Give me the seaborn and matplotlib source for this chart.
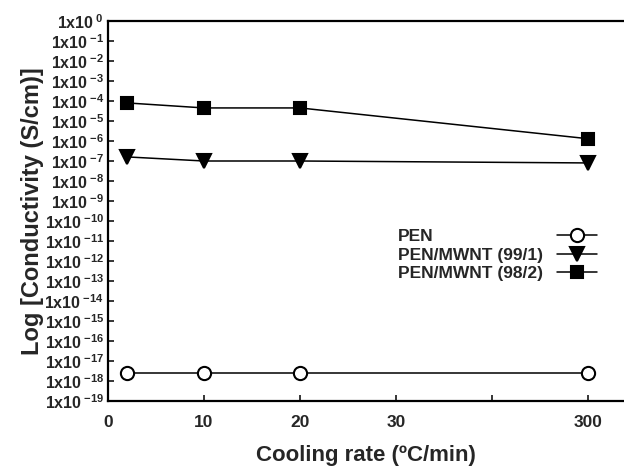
import numpy as np
import pandas as pd
import matplotlib
matplotlib.use("Agg")
import matplotlib.pyplot as plt
import seaborn as sns

sns.set_style("ticks")
plt.rcParams['font.family'] = ['Liberation Sans', 'DejaVu Sans']
plt.rcParams['font.weight'] = 'bold'
plt.rcParams['mathtext.fontset'] = 'custom'
plt.rcParams['mathtext.rm'] = 'Liberation Sans:bold'
plt.rcParams['mathtext.bf'] = 'Liberation Sans:bold'
plt.rcParams['mathtext.it'] = 'Liberation Sans:bold'

# data
cooling_rate = [2, 10, 20, 300]
pen = [2.5e-18, 2.5e-18, 2.5e-18, 2.5e-18]
pen_mwnt_991 = [1.6e-7, 1.0e-7, 1.0e-7, 8.0e-8]
pen_mwnt_982 = [8.0e-5, 4.5e-5, 4.5e-5, 1.3e-6]
series_names = ["PEN", "PEN/MWNT (99/1)", "PEN/MWNT (98/2)"]

# broken x axis: real rates -> axis positions
break_rates = [0, 10, 20, 30, 300]
break_pos = [0, 10, 20, 30, 50]
xtick_pos = [0, 10, 20, 30, 40, 50]
xtick_labels = ["0", "10", "20", "30", "", "300"]
yexp = list(range(0, -20, -1))

rows = []
for name, vals in zip(series_names, [pen, pen_mwnt_991, pen_mwnt_982]):
    for r, v in zip(cooling_rate, vals):
        rows.append({"series": name, "rate": r,
                     "pos": float(np.interp(r, break_rates, break_pos)),
                     "cond": v})
df = pd.DataFrame(rows)

fig = plt.figure(figsize=(6.24, 4.68), dpi=100)
ax = fig.add_axes([108/624, 67/468, 1 - 108/624, 380/468])

styles = {
    "PEN": dict(marker="o", markerfacecolor="white", markersize=9.5),
    "PEN/MWNT (99/1)": dict(marker="v", markerfacecolor="black", markersize=9.5),
    "PEN/MWNT (98/2)": dict(marker="s", markerfacecolor="black", markersize=9),
}
for name in series_names:
    sub = df[df.series == name]
    sns.lineplot(data=sub, x="pos", y="cond", ax=ax, color="black", linewidth=1.1,
                 markeredgecolor="black", markeredgewidth=1.5, label=name,
                 **styles[name])

ax.set_yscale("log")
ax.set_ylim(1e-19, 1e0)
ax.set_xlim(0, (624 - 108) / 9.6)
ax.set_yticks([10.0 ** e for e in yexp])
ax.set_yticklabels([r"$\mathrm{1x10}^{\;\mathrm{%d}}$" % e for e in yexp])
ax.yaxis.set_minor_locator(matplotlib.ticker.NullLocator())
ax.set_xticks(xtick_pos)
ax.set_xticklabels(xtick_labels)

ax.tick_params(axis="both", direction="in", length=4, width=1.3)
ax.tick_params(axis="y", pad=3, labelsize=11.5)
ax.tick_params(axis="x", pad=10, labelsize=12.5)
for s in ["top", "left", "bottom"]:
    ax.spines[s].set_linewidth(1.6)
    ax.spines[s].set_color("black")
ax.spines["right"].set_visible(False)

ax.set_xlabel("Cooling rate (ºC/min)", fontsize=16, fontweight="bold", labelpad=11)
ax.set_ylabel("Log [Conductivity (S/cm)]", fontsize=17, fontweight="bold", labelpad=0)

leg = ax.legend(loc="upper left", bbox_to_anchor=((398 - 108) / 516, 1 - 208 / 380),
                frameon=False, markerfirst=False, fontsize=12.5, handlelength=2.3,
                labelspacing=0.2, handletextpad=0.8, borderaxespad=0, borderpad=0)
for t in leg.get_texts():
    t.set_fontweight("bold")

# left-align labels while keeping handles aligned at the right
fig.canvas.draw()
renderer = fig.canvas.get_renderer()
widths = [t.get_window_extent(renderer).width for t in leg.get_texts()]
maxw = max(widths)
col = leg._legend_handle_box.get_children()[0]
col.align = "left"
for item, w in zip(col.get_children(), widths):
    item.sep = item.sep + (maxw - w) * 72 / fig.dpi

fig.savefig("out.png", dpi=100)
